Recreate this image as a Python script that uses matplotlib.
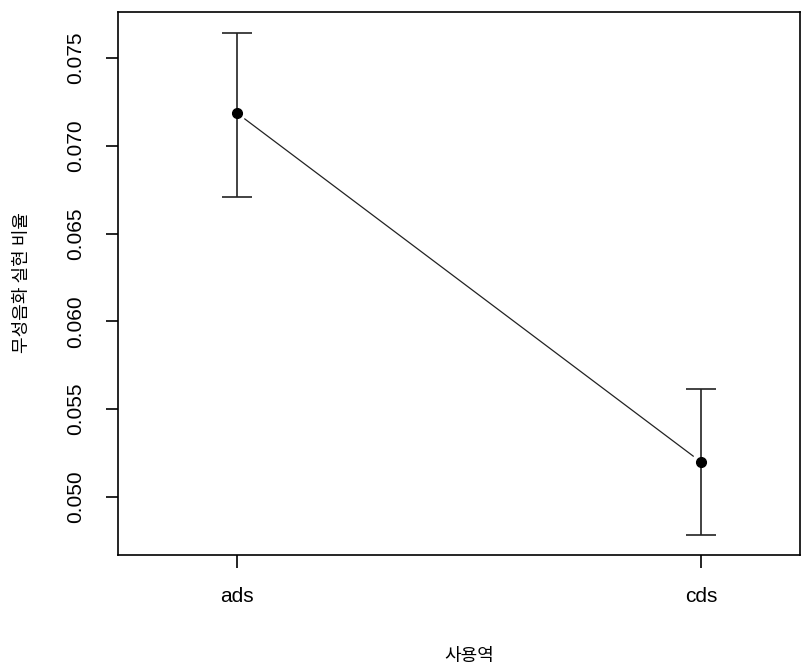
import matplotlib.pyplot as plt
import numpy as np

plt.rcParams['font.family'] = ['Liberation Sans', 'Noto Sans CJK KR', 'DejaVu Sans']

categories = ['ads', 'cds']
means = [0.07187, 0.05199]
upper = [0.07642, 0.05615]
lower = [0.06708, 0.04784]
yticks = [0.050, 0.055, 0.060, 0.065, 0.070, 0.075]

x = np.arange(1, len(categories) + 1)
means = np.array(means)
yerr = [means - np.array(lower), np.array(upper) - means]

fig = plt.figure(figsize=(8.1, 6.68), dpi=100)
ax = fig.add_axes([0.1457, 0.1692, 0.8420, 0.8128])

ax.errorbar(x, means, yerr=yerr, fmt='none', ecolor='#222222', elinewidth=1.2,
            capsize=11, capthick=1.2)
ax.plot(x, means, 'o', color='black', markersize=7)
# connecting line with gaps around the points (R type="b")
ax.annotate('', xy=(x[1], means[1]), xytext=(x[0], means[0]),
            arrowprops=dict(arrowstyle='-', color='#222222', lw=0.9,
                            shrinkA=7, shrinkB=7))

ax.set_xlim(0.744, 2.213)
ax.set_ylim(0.0467, 0.07762)
ax.set_xticks(x)
ax.set_xticklabels(categories, fontsize=15)
ax.set_yticks(yticks)
ax.set_yticklabels(['%.3f' % v for v in yticks], fontsize=15, rotation=90, va='center')
ax.tick_params(axis='x', length=9, width=1.2, pad=14)
ax.tick_params(axis='y', length=9, width=1.2, pad=15)
for s in ax.spines.values():
    s.set_linewidth(1.2)

fig.text(469 / 810, 1 - 656 / 668, '사용역', ha='center', va='center', fontsize=13,
         family='Noto Sans CJK KR')
fig.text(22 / 810, 1 - 283 / 668, '무성음화 실현 비율', ha='center', va='center', rotation=90,
         fontsize=13, family='Noto Sans CJK KR')

fig.savefig('out.png', dpi=100)
